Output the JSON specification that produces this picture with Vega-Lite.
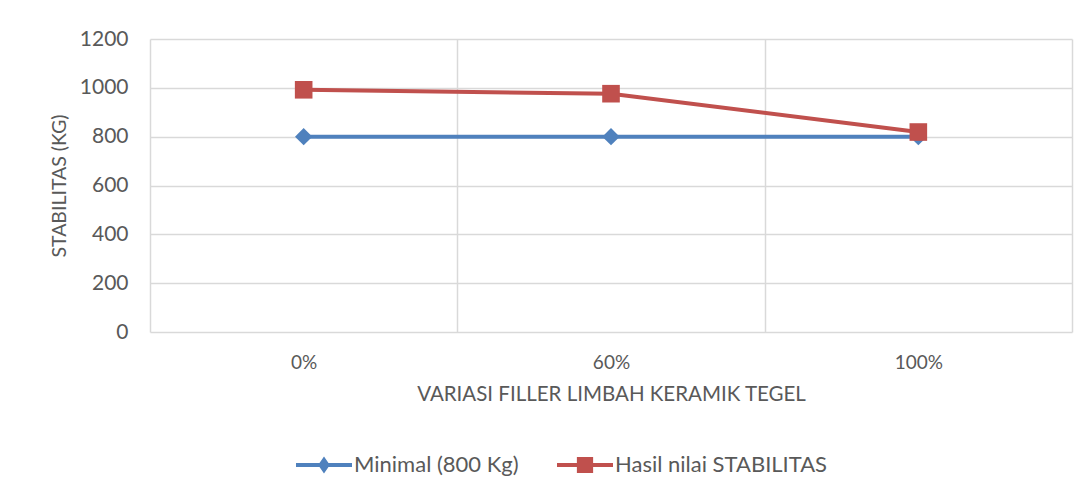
{
  "$schema": "https://vega.github.io/schema/vega-lite/v6.json",
  "width": 922,
  "height": 293,
  "autosize": {"type": "none"},
  "padding": {"left": 150, "top": 39, "right": 18, "bottom": 165},
  "background": "white",
  "config": {
    "view": {"stroke": null},
    "font": "Lato",
    "axis": {"labelColor": "#595959", "titleColor": "#595959", "titleFontWeight": "normal", "labelFont": "Lato", "titleFont": "Lato"},
    "legend": {"labelColor": "#595959", "labelFont": "Lato"}
  },
  "data": {
    "values": [
      {"variasi": "0%", "series": "Minimal (800 Kg)", "value": 800},
      {"variasi": "60%", "series": "Minimal (800 Kg)", "value": 800},
      {"variasi": "100%", "series": "Minimal (800 Kg)", "value": 800},
      {"variasi": "0%", "series": "Hasil nilai STABILITAS", "value": 992},
      {"variasi": "60%", "series": "Hasil nilai STABILITAS", "value": 976},
      {"variasi": "100%", "series": "Hasil nilai STABILITAS", "value": 819}
    ]
  },
  "encoding": {
    "x": {
      "field": "variasi",
      "type": "ordinal",
      "sort": ["0%", "60%", "100%"],
      "scale": {"type": "band", "paddingInner": 0, "paddingOuter": 0},
      "axis": {
        "title": "VARIASI FILLER LIMBAH KERAMIK TEGEL",
        "tickBand": "extent",
        "domain": false,
        "ticks": false,
        "labelAngle": 0,
        "grid": true,
        "gridColor": "#d9d9d9",
        "gridWidth": 1.5,
        "labelFontSize": 19,
        "labelPadding": 21,
        "titleFontSize": 20.5,
        "titlePadding": 12
      }
    },
    "y": {
      "field": "value",
      "type": "quantitative",
      "scale": {"domain": [0, 1200]},
      "axis": {
        "title": "STABILITAS (KG)",
        "values": [0, 200, 400, 600, 800, 1000, 1200],
        "format": "d",
        "domain": false,
        "ticks": false,
        "grid": true,
        "gridColor": "#d9d9d9",
        "gridWidth": 1.5,
        "labelFontSize": 21,
        "labelPadding": 22,
        "titleFontSize": 19.5,
        "titlePadding": 10
      }
    },
    "color": {
      "field": "series",
      "type": "nominal",
      "sort": ["Minimal (800 Kg)", "Hasil nilai STABILITAS"],
      "scale": {"domain": ["Minimal (800 Kg)", "Hasil nilai STABILITAS"], "range": ["#4f81bd", "#c0504d"]},
      "legend": {
        "title": null,
        "orient": "none",
        "legendX": 146,
        "legendY": 398,
        "direction": "horizontal",
        "labelFontSize": 22,
        "labelLimit": 400,
        "symbolSize": 3136,
        "symbolStrokeWidth": 0,
        "labelOffset": 2,
        "columnPadding": 38,
        "encode": {
          "symbols": {
            "update": {
              "shape": {"signal": "datum.value === 'Minimal (800 Kg)' ? 'M-1,-0.07H1V0.07H-1Z M0,-0.3L0.21,0L0,0.3L-0.21,0Z' : 'M-1,-0.07H1V0.07H-1Z M-0.29,-0.29H0.29V0.29H-0.29Z'"},
              "fill": {"scale": "color", "field": "value"},
              "strokeWidth": {"value": 0},
              "opacity": {"value": 1}
            }
          }
        }
      }
    }
  },
  "layer": [
    {"mark": {"type": "line", "strokeWidth": 4}},
    {
      "transform": [{"filter": "datum.series === 'Minimal (800 Kg)'"}],
      "mark": {"type": "point", "shape": "diamond", "filled": true, "opacity": 1, "size": 300}
    },
    {
      "transform": [{"filter": "datum.series === 'Hasil nilai STABILITAS'"}],
      "mark": {"type": "point", "shape": "square", "filled": true, "opacity": 1, "size": 310}
    }
  ]
}
